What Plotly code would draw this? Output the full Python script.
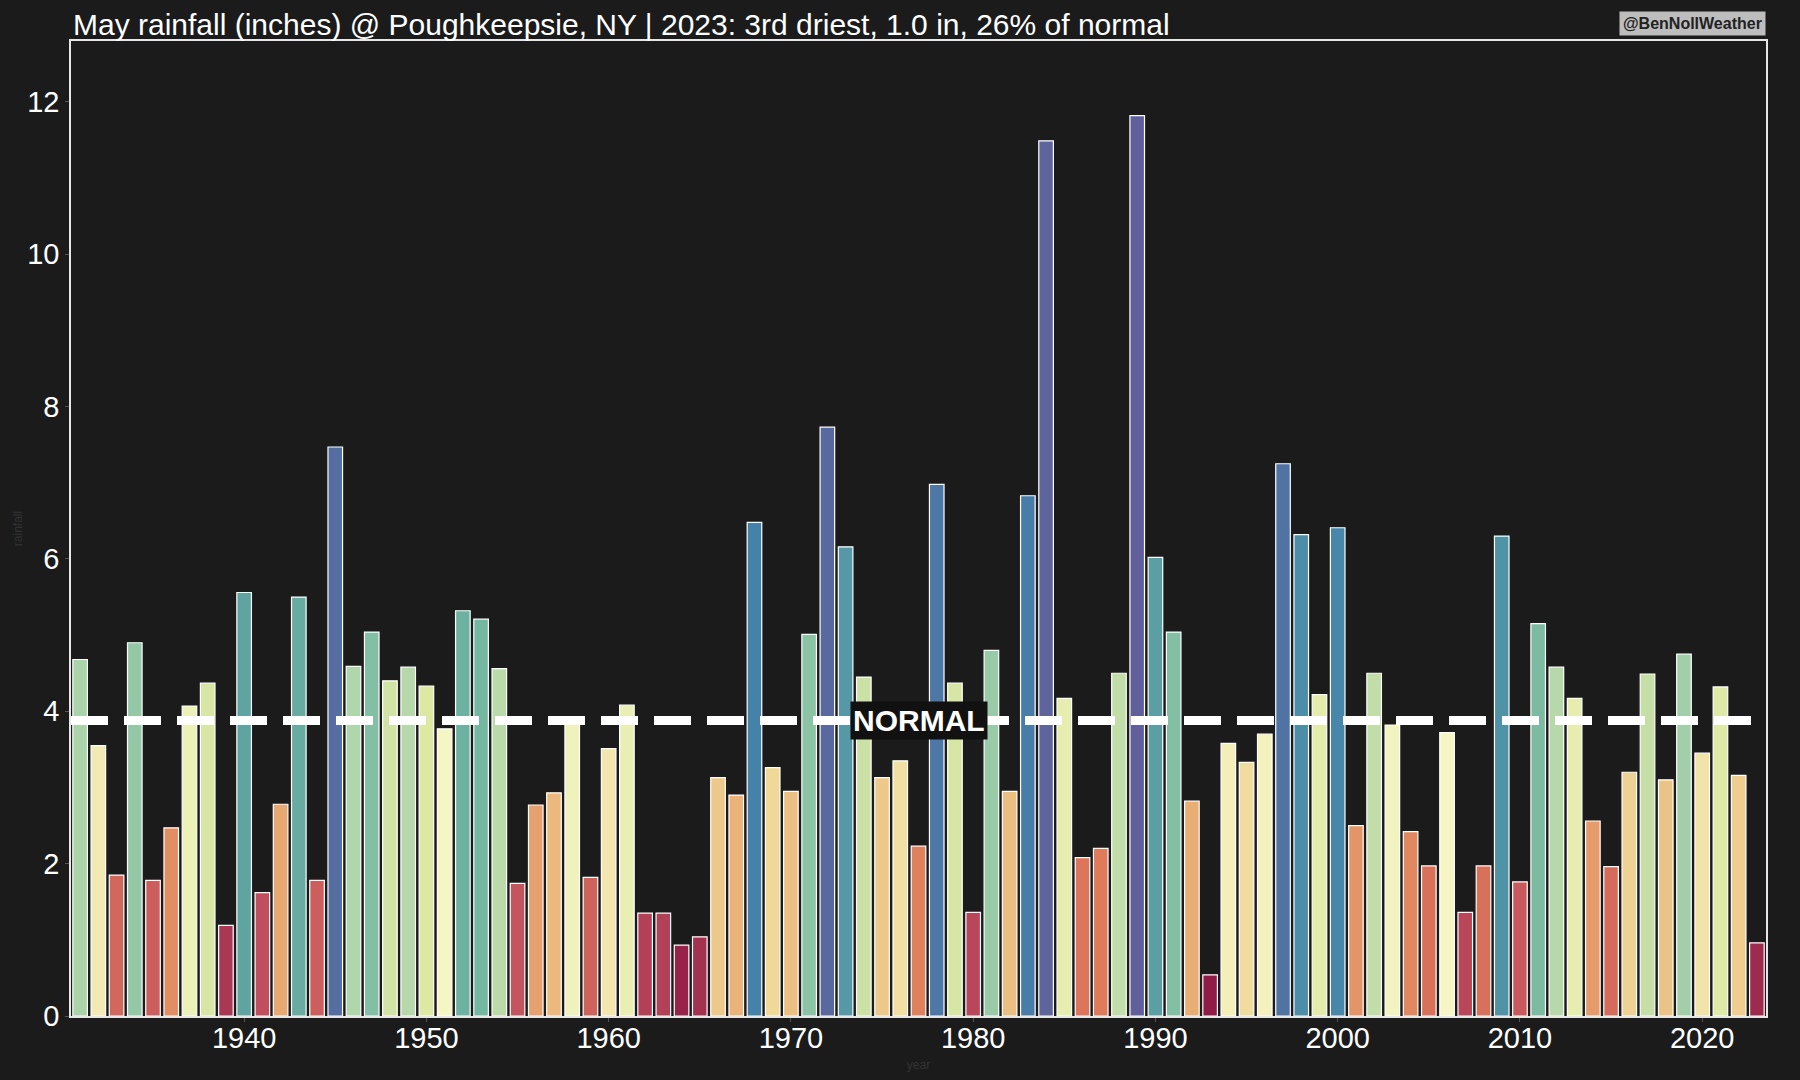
import colorsys
import plotly.graph_objects as go

# May rainfall (inches), Poughkeepsie NY
years = list(range(1931, 2024))
rain = [4.68, 3.55, 1.85, 4.90, 1.78, 2.47, 4.07, 4.37, 1.19, 5.56,
        1.62, 2.78, 5.50, 1.78, 7.47, 4.59, 5.04, 4.40, 4.58, 4.33,
        3.77, 5.32, 5.21, 4.56, 1.74, 2.77, 2.93, 3.83, 1.82, 3.51,
        4.08, 1.35, 1.35, 0.93, 1.04, 3.13, 2.90, 6.48, 3.26, 2.95,
        5.01, 7.73, 6.16, 4.45, 3.13, 3.35, 2.23, 6.98, 4.37, 1.36,
        4.80, 2.95, 6.83, 11.49, 4.17, 2.08, 2.20, 4.50, 11.82, 6.02,
        5.04, 2.82, 0.54, 3.58, 3.33, 3.70, 7.25, 6.32, 4.22, 6.41,
        2.50, 4.50, 3.82, 2.42, 1.97, 3.72, 1.36, 1.97, 6.30, 1.76,
        5.15, 4.58, 4.17, 2.56, 1.96, 3.20, 4.49, 3.10, 4.75, 3.45,
        4.32, 3.16, 0.96]
normal = 3.88
tick_years = [1940, 1950, 1960, 1970, 1980, 1990, 2000, 2010, 2020]
y_ticks = [0, 2, 4, 6, 8, 10, 12]

title = "May rainfall (inches) @ Poughkeepsie, NY | 2023: 3rd driest, 1.0 in, 26% of normal"

# Spectral colormap, one colour per distinct value (by rank), desaturated like seaborn
spectral = ["#9e0142", "#d53e4f", "#f46d43", "#fdae61", "#fee08b", "#ffffbf",
            "#e6f598", "#abdda4", "#66c2a5", "#3288bd", "#5e4fa2"]


def cmap(t):
    rgb = [tuple(int(h[i:i + 2], 16) / 255 for i in (1, 3, 5)) for h in spectral]
    p = t * (len(rgb) - 1)
    i = min(int(p), len(rgb) - 2)
    f = p - i
    c = [rgb[i][k] + (rgb[i + 1][k] - rgb[i][k]) * f for k in range(3)]
    h, l, s = colorsys.rgb_to_hls(*c)
    r, g, b = colorsys.hls_to_rgb(h, l, s * 0.75)
    return "rgb(%d,%d,%d)" % (r * 255, g * 255, b * 255)


levels = sorted(set(rain))
colors = [cmap((levels.index(v) + 1) / (len(levels) + 1)) for v in rain]

fig = go.Figure()
fig.add_trace(go.Bar(x=years, y=rain, marker_color=colors,
                     marker_line_color="white", marker_line_width=1.2))

fig.add_shape(type="line", xref="x", yref="y", x0=years[0] - 0.5, x1=years[-1] + 0.5,
              y0=normal, y1=normal, line=dict(color="white", width=9, dash="37px,16px"))

fig.add_annotation(x=years[len(years) // 2], y=normal, text="<b>NORMAL</b>", showarrow=False,
                   font=dict(size=30, color="white"), bgcolor="#111111", borderpad=2)

fig.add_annotation(xref="paper", yref="paper", x=0, y=1, xanchor="left", yanchor="bottom",
                   text=title, showarrow=False, yshift=-2,
                   font=dict(size=30, color="white"))

fig.add_annotation(xref="paper", yref="paper", x=1, y=1, xanchor="right", yanchor="bottom",
                   text="<b>@BenNollWeather</b>", showarrow=False, yshift=5,
                   font=dict(size=16, color="#222222"), bgcolor="#bdbdbd", borderpad=3)

fig.update_layout(
    width=1800, height=1080,
    margin=dict(l=71, r=34, t=41, b=64, autoexpand=False),
    paper_bgcolor="#1b1b1b", plot_bgcolor="#1b1b1b",
    font=dict(family="Liberation Sans, Arial, sans-serif", color="white"),
    bargap=0.2, showlegend=False,
)
fig.update_xaxes(range=[years[0] - 0.5, years[-1] + 0.5], tickvals=tick_years,
                 tickfont=dict(size=29), showgrid=False, zeroline=False, automargin=False,
                 showline=True, mirror=True, linecolor="#e6e6e6", linewidth=1.5,
                 ticks="outside", ticklen=4, tickcolor="#555555", ticklabelstandoff=-9,
                 title=dict(text="year", font=dict(size=12, color="#333333"), standoff=8))
fig.update_yaxes(range=[0, 12.8], tickvals=y_ticks,
                 tickfont=dict(size=29), showgrid=False, zeroline=False, automargin=False,
                 showline=True, mirror=True, linecolor="#e6e6e6", linewidth=1.5,
                 ticks="outside", ticklen=4, tickcolor="#555555",
                 title=dict(text="rainfall", font=dict(size=12, color="#333333"), standoff=2))

# drop the page margin so the figure fills the window
fig.write_html("out.html", config={"displayModeBar": False},
               post_script="document.body.style.margin='0';"
                           "document.body.style.background='#1b1b1b';")
